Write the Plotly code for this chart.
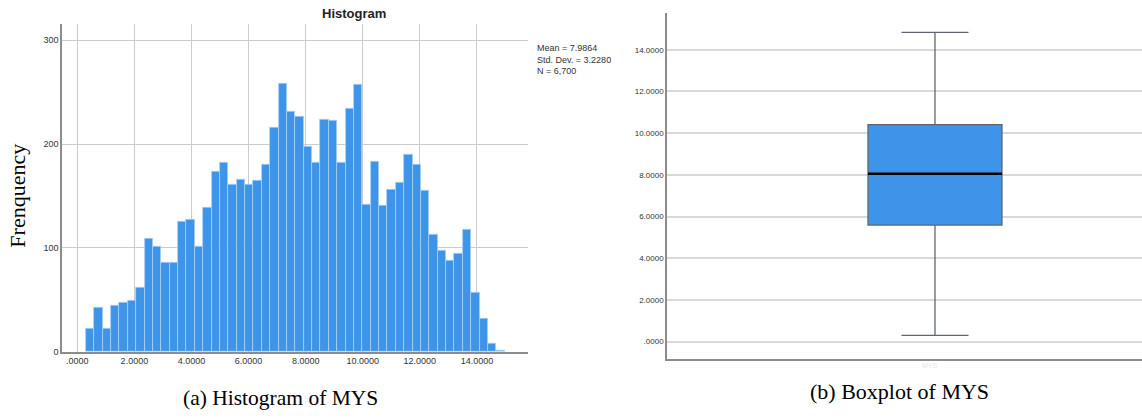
import plotly.graph_objects as go

# ---- Histogram of MYS: bin counts (50 equal-width bins) ----
bin_start = 0.30
bin_width = 0.2935
counts = [
    22, 42, 22, 44, 47, 49, 62, 109, 101, 86,
    86, 125, 127, 101, 139, 173, 182, 161, 166, 161,
    165, 180, 216, 258, 231, 226, 198, 182, 224, 223,
    182, 234, 257, 142, 183, 141, 156, 163, 190, 180,
    155, 113, 97, 88, 94, 118, 57, 32, 8, 1,
]
bin_centers = [bin_start + bin_width * (i + 0.5) for i in range(len(counts))]

hist_xticks = [0, 2, 4, 6, 8, 10, 12, 14]
hist_xtick_labels = [".0000", "2.0000", "4.0000", "6.0000", "8.0000",
                     "10.0000", "12.0000", "14.0000"]
hist_yticks = [0, 100, 200, 300]
hist_ytick_labels = ["0", "100", "200", "300"]

stats_lines = ["Mean = 7.9864", "Std. Dev. = 3.2280", "N = 6,700"]

# ---- Boxplot of MYS: five-number summary ----
box_lower = 0.30
box_q1 = 5.59
box_median = 8.05
box_q3 = 10.41
box_upper = 14.83
box_width = 1.0

box_yticks = [0, 2, 4, 6, 8, 10, 12, 14]
box_ytick_labels = [".0000", "2.0000", "4.0000", "6.0000", "8.0000",
                    "10.0000", "12.0000", "14.0000"]

W, H = 1142, 419
BAR_BLUE = "#3d94e8"
SANS = "Liberation Sans, Arial, sans-serif"
SERIF = "Liberation Serif, Times New Roman, serif"
TICK_COLOR = "#333333"


def px_x(p):
    return p / W


def px_y(p):
    return (H - p) / H


fig = go.Figure()

fig.add_trace(go.Bar(
    x=bin_centers, y=counts, width=bin_width,
    marker=dict(color=BAR_BLUE, line=dict(color="#a9cff5", width=0.8)),
    xaxis="x", yaxis="y", showlegend=False, hoverinfo="x+y",
))

fig.add_trace(go.Box(
    x=[0], q1=[box_q1], median=[box_median], q3=[box_q3],
    lowerfence=[box_lower], upperfence=[box_upper],
    width=box_width, whiskerwidth=0.5, boxpoints=False,
    fillcolor=BAR_BLUE, line=dict(color="#5d6670", width=1.3),
    xaxis="x2", yaxis="y2", showlegend=False,
))

# heavy black median bar across the box
fig.add_trace(go.Scatter(
    x=[-box_width / 2, box_width / 2], y=[box_median, box_median],
    mode="lines", line=dict(color="#000000", width=2.5),
    xaxis="x2", yaxis="y2", showlegend=False, hoverinfo="skip",
))

axis_common = dict(showline=True, linecolor="#8c8c8c", linewidth=1.5,
                   ticks="", zeroline=False, mirror=False)

fig.update_layout(
    width=W, height=H,
    margin=dict(l=0, r=0, t=0, b=0),
    paper_bgcolor="white", plot_bgcolor="white",
    bargap=0,
    xaxis=dict(
        domain=[px_x(62), px_x(528)], range=[-0.536, 15.79],
        tickvals=hist_xticks, ticktext=hist_xtick_labels,
        tickfont=dict(family=SANS, size=9, color=TICK_COLOR),
        showgrid=True, gridcolor="#cccccc", gridwidth=1,
        anchor="y", **axis_common,
    ),
    yaxis=dict(
        domain=[px_y(356), px_y(24)], range=[0, 316],
        tickvals=hist_yticks, ticktext=hist_ytick_labels,
        tickfont=dict(family=SANS, size=9, color=TICK_COLOR),
        showgrid=True, gridcolor="#cccccc", gridwidth=1,
        anchor="x", **axis_common,
    ),
    xaxis2=dict(
        domain=[px_x(667), 1.0], range=[-2.0, 1.545],
        showticklabels=False, showgrid=False,
        anchor="y2", **axis_common,
    ),
    yaxis2=dict(
        domain=[px_y(363), px_y(13)], range=[-0.82, 15.77],
        tickvals=box_yticks, ticktext=box_ytick_labels,
        tickfont=dict(family=SANS, size=8, color=TICK_COLOR),
        showgrid=True, gridcolor="#d9d9d9", gridwidth=1.5,
        anchor="x2", **axis_common,
    ),
    annotations=[
        dict(text="<b>Histogram</b>", x=px_x(354), y=px_y(14), xref="paper", yref="paper",
             showarrow=False, xanchor="center", yanchor="middle",
             font=dict(family=SANS, size=13, color="#222222")),
        dict(text="<br>".join(stats_lines), x=px_x(535), y=px_y(41),
             xref="paper", yref="paper", showarrow=False,
             xanchor="left", yanchor="top", align="left",
             font=dict(family=SANS, size=9, color="#333333")),
        dict(text="Frenquency", x=px_x(18), y=px_y(198), xref="paper", yref="paper",
             showarrow=False, textangle=-90, xanchor="center", yanchor="middle",
             font=dict(family=SERIF, size=22, color="#000000")),
        dict(text="(a) Histogram of MYS", x=px_x(280), y=px_y(403),
             xref="paper", yref="paper", showarrow=False,
             xanchor="center", yanchor="middle",
             font=dict(family=SERIF, size=21.5, color="#000000")),
        dict(text="(b) Boxplot of MYS", x=px_x(899), y=px_y(396),
             xref="paper", yref="paper", showarrow=False,
             xanchor="center", yanchor="middle",
             font=dict(family=SERIF, size=22, color="#000000")),
        dict(text="MYS", x=px_x(930), y=px_y(370),
             xref="paper", yref="paper", showarrow=False,
             xanchor="center", yanchor="middle",
             font=dict(family=SANS, size=7, color="#e4e4e4")),
    ],
)

fig.write_html("out.html")
